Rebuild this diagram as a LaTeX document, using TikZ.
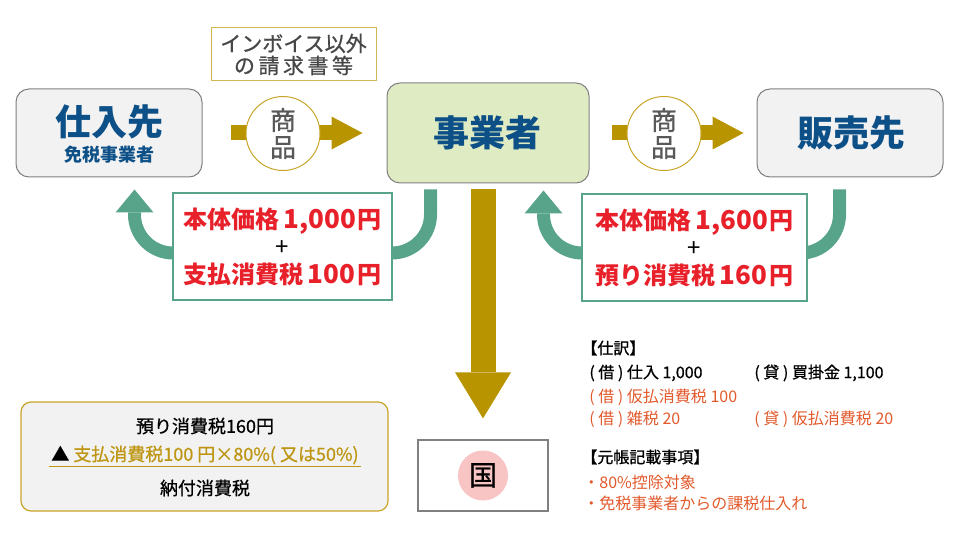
\documentclass[tikz,border=0pt]{standalone}
\usepackage{fontspec}
\setmainfont{Noto Sans CJK JP}
\newfontfamily\medfont{Noto Sans CJK JP}[FakeBold=0.8]
\usetikzlibrary{arrows.meta}

\definecolor{navy}{RGB}{12,80,135}
\definecolor{goldbar}{RGB}{184,148,0}
\definecolor{loopgreen}{RGB}{88,164,138}
\definecolor{paleleaf}{RGB}{223,235,195}
\definecolor{boxgray}{RGB}{242,242,242}
\definecolor{edgegray}{RGB}{128,128,128}
\definecolor{inkgray}{RGB}{89,89,89}
\definecolor{taxred}{RGB}{232,32,42}
\definecolor{noteorange}{RGB}{226,89,43}
\definecolor{textgold}{RGB}{190,150,20}
\definecolor{rimgold}{RGB}{200,165,40}
\definecolor{stamppink}{RGB}{248,196,196}

\newcommand\bignum[1]{{\fontsize{13}{13.75}\selectfont\,#1\kern1pt}}

\begin{document}
\begin{tikzpicture}[x=0.5pt,y=-0.5pt,
  partybox/.style={draw=edgegray,line width=0.5pt,fill=boxgray,rounded corners=6.5pt,
    inner sep=0pt,minimum width=93pt,minimum height=44pt},
  partyname/.style={text=navy,font=\bfseries\fontsize{18}{20}\selectfont,inner sep=0pt},
  partysub/.style={text=navy,font=\bfseries\fontsize{9}{10}\selectfont,inner sep=0pt},
  invoice/.style={draw=rimgold!80,line width=0.5pt,fill=white,minimum width=82.5pt,
    minimum height=26.5pt,inner sep=0pt,align=center,text=black!72,
    font=\medfont\fontsize{10.5}{11}\selectfont},
  goods/.style={circle,draw=rimgold,line width=0.5pt,fill=white,minimum size=37pt,
    inner sep=0pt,align=center,text=inkgray,font=\medfont\fontsize{13}{13.5}\selectfont},
  goldflow/.style={goldbar,line width=7.5pt,-{Triangle[length=15.5pt,width=16.5pt,line width=0pt]}},
  loopflow/.style={loopgreen,line width=6.5pt,rounded corners=19.25pt,
    -{Triangle[length=11.5pt,width=19pt,line width=0pt]}},
  pricebox/.style={draw=loopgreen,line width=1pt,fill=white,minimum width=109.5pt,
    minimum height=53.5pt,align=center,text=taxred,font=\bfseries\fontsize{12}{13.75}\selectfont},
  entry/.style={anchor=west,inner sep=0pt,font=\fontsize{8}{9}\selectfont},
  summary/.style={draw=rimgold,line width=0.6pt,fill=boxgray,rounded corners=5pt,
    minimum width=183.5pt,minimum height=54.5pt},
  sumline/.style={inner sep=0pt,font=\medfont\fontsize{9}{10}\selectfont},
  officebox/.style={draw=edgegray,line width=0.6pt,fill=white,minimum width=65pt,minimum height=35.5pt},
  stamp/.style={circle,fill=stamppink,minimum size=25pt,inner sep=0pt,font=\medfont\fontsize{14}{14}\selectfont}]
  \useasboundingbox (0,0) rectangle (960,540);

  % parties
  \node[partybox] (shiire) at (109,133) {};
  \node[partyname] (shiirename) at (109,122) {仕入先};
  \node[partysub] (shiiresub) at (109,155) {免税事業者};
  \node[partybox,fill=paleleaf,minimum width=101pt,minimum height=50pt] (jigyo) at (488,133) {};
  \node[partyname] (jigyoname) at (487,133) {事業者};
  \node[partybox] (hanbai) at (850,133) {};
  \node[partyname] (hanbainame) at (851,133) {販売先};
  \node[invoice] (invoice) at (293.5,54.5) {インボイス以外\\の\,請\,求\,書\,等};

  % goods
  \draw[goldflow] ([xshift=14pt]shiire.east) -- ([xshift=-12pt]jigyo.west);
  \draw[goldflow] ([xshift=11pt]jigyo.east) -- ([xshift=-6.5pt]hanbai.west);
  \node[goods] (goods1) at (283,133.5) {商\\品};
  \node[goods] (goods2) at (664,133.5) {商\\品};

  % payments
  \draw[loopflow] ([shift={(-57.5,6)}]jigyo.south) -- ++(0,63.5) -| ([shift={(25.5,12)}]shiire.south);
  \draw[loopflow] ([shift={(-10.5,12)}]hanbai.south) -- ++(0,63.5) -| ([shift={(55.5,7)}]jigyo.south);
  \node[pricebox] (price1) at (282.5,246.5) {本体価格\bignum{1,000}円\\{\color{black}\mdseries +}\\支払消費税\bignum{100}円};
  \node[pricebox,minimum width=112.5pt] (price2) at (694.5,247.5) {本体価格\bignum{1,600}円\\{\color{black}\mdseries +}\\預り消費税\bignum{160}円};

  % tax office
  \node[officebox] (kuni) at (483,475.5) {};
  \node[stamp] (kunimark) at (kuni.center) {国};
  \coordinate (dropstart) at (kuni.center |- jigyo.south);
  \draw[goldflow,line width=12.5pt,-{Triangle[length=23pt,width=28pt,line width=0pt]}]
    ([yshift=-3pt]dropstart) -- ([yshift=10.5pt]kuni.north);

  % journal
  \node[entry,font=\medfont\fontsize{8}{9}\selectfont] (jhead) at (581,348) {【仕訳】};
  \node[entry,font=\medfont\fontsize{8}{9}\selectfont] (j1) at (589,373) {( 借 ) 仕入 1,000};
  \node[entry,font=\medfont\fontsize{8}{9}\selectfont] (j2) at (754,373) {( 貸 ) 買掛金 1,100};
  \node[entry,text=noteorange] (j3) at (589,397) {( 借 ) 仮払消費税 100};
  \node[entry,text=noteorange] (j4) at (589,419) {( 借 ) 雑税 20};
  \node[entry,text=noteorange] (j5) at (754,419) {( 貸 ) 仮払消費税 20};
  \node[entry,font=\medfont\fontsize{8}{9}\selectfont] (lhead) at (581,457) {【元帳記載事項】};
  \node[entry,text=noteorange] (l1) at (583,482) {・80\%控除対象};
  \node[entry,text=noteorange] (l2) at (583,503) {・免税事業者からの課税仕入れ};

  % payable tax
  \node[summary] (summary) at (204.5,456.5) {};
  \node[sumline] (azukari) at (205,426) {預り消費税160円};
  \node[sumline,text=textgold] (kojo) at (205,455) {\textcolor{black}{▲} 支払消費税100 円×80\%( 又は50\%)};
  \draw[textgold,line width=0.6pt] ([shift={(-2,2)}]kojo.south west) -- ([shift={(2,2)}]kojo.south east);
  \node[sumline] (nofu) at (205,488) {納付消費税};
\end{tikzpicture}
\end{document}
